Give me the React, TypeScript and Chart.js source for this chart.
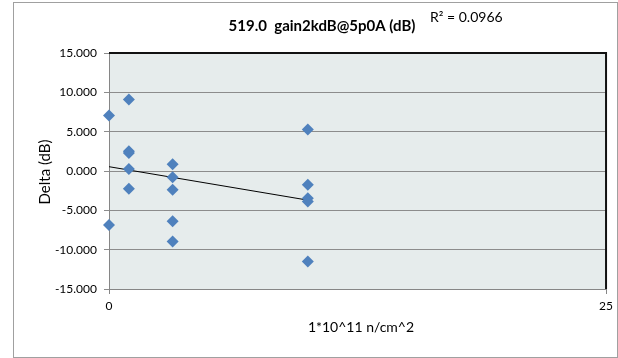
import React, { useEffect, useRef } from 'react';
import { Chart, registerables } from 'chart.js';

Chart.register(...registerables);

const FONT = 'Lato, "Liberation Sans", "DejaVu Sans", sans-serif';

const fluenceValues = [0, 0, 1, 1, 1, 1, 1, 3.2, 3.2, 3.2, 3.2, 3.2, 10, 10, 10, 10, 10];
const deltaValues = [7.05, -6.85, 9.1, 2.5, 2.3, 0.25, -2.26, 0.85, -0.8, -2.39, -6.38, -8.97, 5.27, -1.75, -3.45, -3.87, -11.5];
const yTickValues = [-15, -10, -5, 0, 5, 10, 15];
const xTickValues = [0, 25];
const chartTitle = '519.0  gain2kdB@5p0A (dB)';
const rSquaredLabel = 'R² = 0.0966';
const yAxisTitle = 'Delta (dB)';
const xAxisTitle = '1*10^11 n/cm^2';

function linearFit(xs: number[], ys: number[]) {
  const n = xs.length;
  const mx = xs.reduce((a, b) => a + b, 0) / n;
  const my = ys.reduce((a, b) => a + b, 0) / n;
  let sxy = 0;
  let sxx = 0;
  for (let i = 0; i < n; i++) {
    sxy += (xs[i] - mx) * (ys[i] - my);
    sxx += (xs[i] - mx) * (xs[i] - mx);
  }
  const slope = sxy / sxx;
  return { slope, intercept: my - slope * mx };
}

export default function App() {
  const canvasRef = useRef<HTMLCanvasElement | null>(null);

  useEffect(() => {
    const canvas = canvasRef.current;
    if (!canvas) return;
    const fit = linearFit(fluenceValues, deltaValues);
    const xMin = Math.min(...fluenceValues);
    const xMax = Math.max(...fluenceValues);
    const trend = [
      { x: xMin, y: fit.intercept + fit.slope * xMin },
      { x: xMax, y: fit.intercept + fit.slope * xMax },
    ];
    const points = fluenceValues.map((x, i) => ({ x, y: deltaValues[i] }));

    const decor = {
      id: 'decor',
      beforeDraw(chart: any) {
        const ctx = chart.ctx;
        const a = chart.chartArea;
        ctx.save();
        ctx.fillStyle = '#ffffff';
        ctx.fillRect(0, 0, chart.width, chart.height);
        ctx.strokeStyle = '#a0a0a0';
        ctx.lineWidth = 1;
        ctx.strokeRect(13.5, 2.5, 604, 355);
        ctx.fillStyle = '#e6ecec';
        ctx.fillRect(a.left, a.top, a.right - a.left, a.bottom - a.top);
        ctx.restore();
      },
      afterDatasetsDraw(chart: any) {
        const ctx = chart.ctx;
        const a = chart.chartArea;
        ctx.save();
        ctx.strokeStyle = '#111111';
        ctx.lineWidth = 2;
        ctx.beginPath();
        ctx.moveTo(a.left, a.top);
        ctx.lineTo(a.right, a.top);
        ctx.lineTo(a.right, a.bottom);
        ctx.stroke();
        ctx.restore();
      },
      afterDraw(chart: any) {
        const ctx = chart.ctx;
        const a = chart.chartArea;
        ctx.save();
        ctx.fillStyle = '#000000';
        ctx.textAlign = 'center';
        ctx.textBaseline = 'middle';
        ctx.font = `bold 15px ${FONT}`;
        ctx.fillText(chartTitle, 322, 26);
        ctx.font = `14px ${FONT}`;
        ctx.textAlign = 'left';
        ctx.fillText(rSquaredLabel, 430, 17);

        ctx.textAlign = 'center';
        ctx.font = `14px ${FONT}`;
        ctx.fillText(xAxisTitle, 361, 327);
        ctx.translate(45, 172);
        ctx.rotate(-Math.PI / 2);
        ctx.font = `15px ${FONT}`;
        ctx.fillText(yAxisTitle, 0, 0);
        ctx.restore();
      },
    };

    const chart = new Chart(canvas, {
      type: 'scatter',
      data: {
        datasets: [
          {
            type: 'scatter',
            data: points,
            pointStyle: 'rectRot',
            pointRadius: 6,
            pointHoverRadius: 6,
            backgroundColor: '#4f81bd',
            borderColor: '#4f81bd',
            borderWidth: 0,
            clip: false,
          },
          {
            type: 'line',
            data: trend,
            borderColor: '#000000',
            borderWidth: 1,
            pointRadius: 0,
            fill: false,
          } as any,
        ],
      },
      options: {
        animation: false,
        responsive: false,
        maintainAspectRatio: false,
        layout: { padding: { left: 0, right: 10, top: 53, bottom: 0 } },
        plugins: {
          legend: { display: false },
          tooltip: { enabled: false },
          title: { display: false },
        },
        scales: {
          x: {
            type: 'linear',
            min: xTickValues[0],
            max: xTickValues[xTickValues.length - 1],
            afterBuildTicks: (axis: any) => {
              axis.ticks = xTickValues.map((v) => ({ value: v }));
            },
            afterFit: (axis: any) => {
              axis.height = 69;
            },
            grid: {
              drawOnChartArea: false,
              drawTicks: true,
              tickLength: 5,
              color: '#868686',
            },
            border: { display: true, color: '#868686', width: 1 },
            ticks: {
              padding: 5,
              color: '#000000',
              font: { family: FONT, size: 12 },
              maxRotation: 0,
              callback: (v: any) => String(v),
            },
          },
          y: {
            type: 'linear',
            min: yTickValues[0],
            max: yTickValues[yTickValues.length - 1],
            afterBuildTicks: (axis: any) => {
              axis.ticks = yTickValues.map((v) => ({ value: v }));
            },
            afterFit: (axis: any) => {
              axis.width = 109;
            },
            grid: {
              drawOnChartArea: true,
              drawTicks: true,
              tickLength: 5,
              color: '#8c8c8c',
              lineWidth: 1,
            },
            border: { display: true, color: '#868686', width: 1 },
            ticks: {
              padding: 7,
              color: '#000000',
              font: { family: FONT, size: 12 },
              callback: (v: any) => Number(v).toFixed(3),
            },
          },
        },
      },
      plugins: [decor],
    } as any);

    return () => {
      chart.destroy();
    };
  }, []);

  return (
    <div style={{ position: 'fixed', left: 0, top: 0, width: 618, height: 358 }}>
      <canvas ref={canvasRef} width={618} height={358} style={{ width: 618, height: 358, display: 'block' }} />
    </div>
  );
}
